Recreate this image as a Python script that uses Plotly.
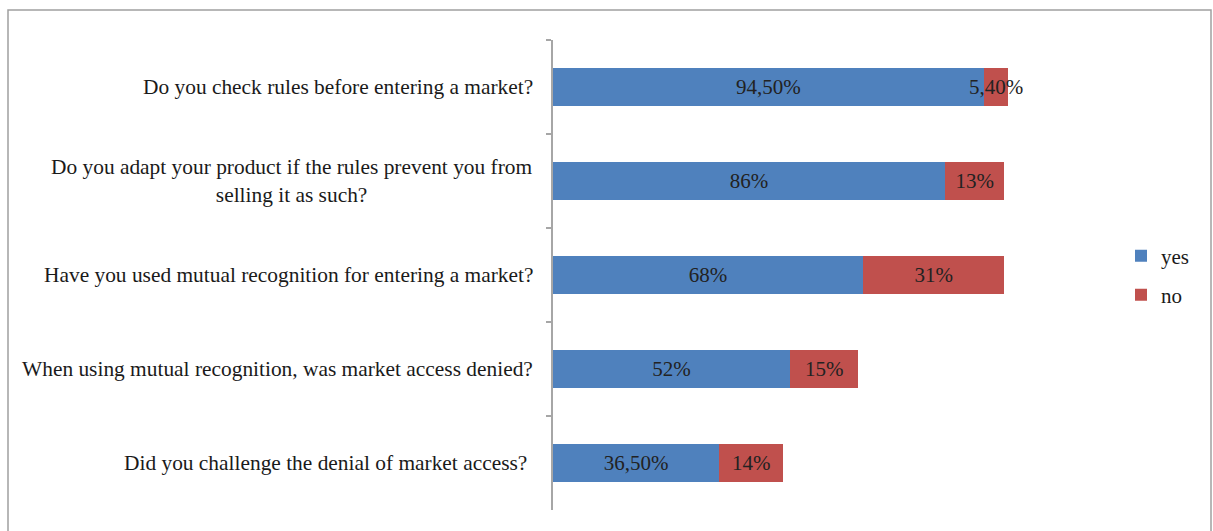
import plotly.graph_objects as go

questions = [
    "Do you check rules before entering a market?",
    "Do you adapt your product if the rules prevent you from<br>selling it as such?",
    "Have you used mutual recognition for entering a market?",
    "When using mutual recognition, was market access denied?",
    "Did you challenge the denial of market access? ",
]
yes_pct = [94.5, 86, 68, 52, 36.5]
no_pct = [5.4, 13, 31, 15, 14]

BLUE = "#4F81BD"
RED = "#C0504D"
FONT = "Liberation Serif, Times New Roman, serif"
GRID = "#a6a6a6"


def pct_label(v):
    if float(v).is_integer():
        return f"{int(v)}%"
    return f"{v:.2f}".replace(".", ",") + "%"


# plot-area geometry in pixels
W, H = 1213, 531
L, R, T, B = 553, 113, 40, 21
PW, PH = W - L - R, H - T - B


def px_x(p):
    return (p - L) / PW


def px_y(p):
    return (H - B - p) / PH


fig = go.Figure()
for name, vals, color, leg in [("yes", yes_pct, BLUE, "legend"), ("no", no_pct, RED, "legend2")]:
    fig.add_trace(go.Bar(
        y=questions, x=vals, name=name, orientation="h",
        marker=dict(color=color, line=dict(width=0)),
        text=[pct_label(v) for v in vals],
        textposition="inside", insidetextanchor="middle",
        textangle=0, constraintext="none", cliponaxis=False,
        textfont=dict(family=FONT, size=21, color="#222222"),
        legend=leg, showlegend=True,
    ))

# category labels, centred line by line
annotations = [
    dict(x=0, xref="paper", y=q, yref="y", text=q, showarrow=False,
         xanchor="right", yanchor="middle", align="center", xshift=-18,
         font=dict(family=FONT, size=21.4, color="#1a1a1a"))
    for q in questions
]

legend_style = dict(xanchor="left", yanchor="middle", bgcolor="rgba(0,0,0,0)",
                    font=dict(family=FONT, size=21, color="#1a1a1a"),
                    itemwidth=30, visible=True)

fig.update_layout(
    width=W, height=H,
    margin=dict(l=L, r=R, t=T, b=B),
    paper_bgcolor="white", plot_bgcolor="white",
    barmode="stack", bargap=0.606, showlegend=True,
    font=dict(family=FONT, size=21, color="#1a1a1a"),
    xaxis=dict(range=[0, 120], visible=False, fixedrange=True),
    yaxis=dict(autorange="reversed", showticklabels=False, showgrid=False,
               showline=True, linecolor=GRID, linewidth=1.5,
               ticks="outside", ticklen=5, tickcolor=GRID, tickwidth=1.5,
               tickson="boundaries", zeroline=False),
    legend=dict(x=px_x(1121), y=px_y(256), **legend_style),
    legend2=dict(x=px_x(1121), y=px_y(295), **legend_style),
    annotations=annotations,
    shapes=[dict(type="rect", xref="paper", yref="paper",
                 x0=px_x(8), x1=px_x(1211), y0=px_y(545), y1=px_y(10),
                 line=dict(color="#a0a0a0", width=1.5), layer="above")],
)

fig.write_html("out.html", config={"displayModeBar": False})
